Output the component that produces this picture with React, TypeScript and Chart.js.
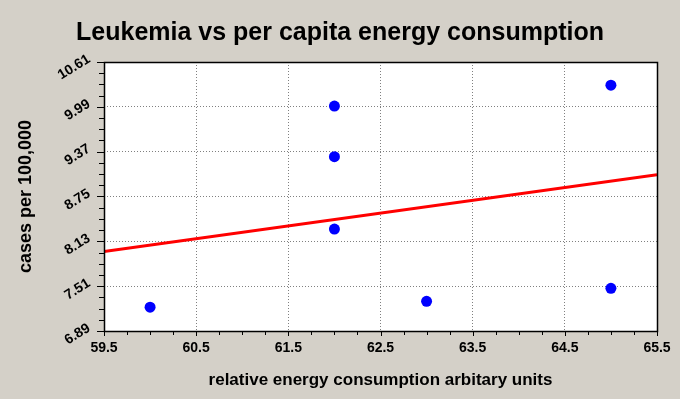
import React, { useEffect, useRef } from 'react';
import { Chart, registerables } from 'chart.js';

Chart.register(...registerables);

const titleText = 'Leukemia vs per capita energy consumption';
const xAxisTitle = 'relative energy consumption arbitary units';
const yAxisTitle = 'cases per 100,000';

const xTickValues = [59.5, 60.5, 61.5, 62.5, 63.5, 64.5, 65.5];
const xTickLabels = ['59.5', '60.5', '61.5', '62.5', '63.5', '64.5', '65.5'];
const yTickValues = [6.89, 7.51, 8.13, 8.75, 9.37, 9.99, 10.61];
const yTickLabels = ['6.89', '7.51', '8.13', '8.75', '9.37', '9.99', '10.61'];

const energyX = [60, 62, 62, 62, 63, 65, 65];
const casesY = [7.22, 10.0, 9.3, 8.3, 7.3, 10.29, 7.48];

const fitX = [59.5, 65.5];
const fitY = [7.99, 9.05];

const minorDivisions = 4;

const FONT = "'Liberation Sans', Arial, sans-serif";
const BG = '#d4d0c8';

const framePlugin = {
  id: 'frame',
  beforeDraw(chart: any) {
    const { ctx, chartArea: a, width, height } = chart;
    ctx.save();
    ctx.fillStyle = BG;
    ctx.fillRect(0, 0, width, height);
    ctx.fillStyle = '#ffffff';
    ctx.fillRect(a.left, a.top, a.right - a.left, a.bottom - a.top);
    ctx.restore();
  },
  afterDraw(chart: any) {
    const { ctx, chartArea: a } = chart;
    const xs = chart.scales.x;
    const ys = chart.scales.y;
    ctx.save();
    ctx.strokeStyle = '#000000';
    ctx.lineWidth = 1;
    ctx.beginPath();
    for (let i = 0; i < xTickValues.length; i++) {
      const px = Math.round(xs.getPixelForValue(xTickValues[i])) + 0.5;
      ctx.moveTo(px, a.bottom);
      ctx.lineTo(px, a.bottom + 5);
      if (i < xTickValues.length - 1) {
        const step = (xTickValues[i + 1] - xTickValues[i]) / minorDivisions;
        for (let k = 1; k < minorDivisions; k++) {
          const mx = Math.round(xs.getPixelForValue(xTickValues[i] + k * step)) + 0.5;
          ctx.moveTo(mx, a.bottom);
          ctx.lineTo(mx, a.bottom + 4);
        }
      }
    }
    for (let i = 0; i < yTickValues.length; i++) {
      const py = Math.round(ys.getPixelForValue(yTickValues[i])) + 0.5;
      ctx.moveTo(a.left, py);
      ctx.lineTo(a.left - 7, py);
      if (i < yTickValues.length - 1) {
        const step = (yTickValues[i + 1] - yTickValues[i]) / minorDivisions;
        for (let k = 1; k < minorDivisions; k++) {
          const my = Math.round(ys.getPixelForValue(yTickValues[i] + k * step)) + 0.5;
          ctx.moveTo(a.left, my);
          ctx.lineTo(a.left - 5, my);
        }
      }
    }
    ctx.stroke();
    ctx.lineWidth = 1.5;
    ctx.strokeRect(Math.round(a.left) + 0.5, Math.round(a.top) + 0.5, Math.round(a.right - a.left), Math.round(a.bottom - a.top));
    ctx.restore();
  },
};

export default function App() {
  const ref = useRef<HTMLCanvasElement | null>(null);

  useEffect(() => {
    document.body.style.margin = '0';
    const canvas = ref.current;
    if (!canvas) return;
    const chart = new Chart(canvas, {
      type: 'scatter',
      data: {
        datasets: [
          {
            label: 'regression',
            data: fitX.map((x, i) => ({ x, y: fitY[i] })),
            showLine: true,
            borderColor: '#ff0000',
            backgroundColor: '#ff0000',
            borderWidth: 3,
            pointRadius: 0,
            order: 2,
          },
          {
            label: 'cases',
            data: energyX.map((x, i) => ({ x, y: casesY[i] })),
            showLine: false,
            pointRadius: 5.5,
            pointBorderWidth: 0,
            pointBackgroundColor: '#0000ff',
            borderColor: '#0000ff',
            order: 1,
          },
        ],
      },
      options: {
        responsive: false,
        animation: false,
        devicePixelRatio: 1,
        layout: { padding: { left: 23, right: 23, top: 0, bottom: 0 } },
        plugins: {
          legend: { display: false },
          tooltip: { enabled: false },
          title: {
            display: true,
            text: titleText,
            color: '#000000',
            font: { family: FONT, size: 25, weight: 'bold', lineHeight: 1.2 },
            padding: { top: 18, bottom: 14 },
          },
        },
        scales: {
          x: {
            type: 'linear',
            min: 59.5,
            max: 65.5,
            afterBuildTicks: (s: any) => {
              s.ticks = xTickValues.map((v) => ({ value: v }));
            },
            afterFit: (s: any) => {
              s.height = 68;
            },
            ticks: {
              autoSkip: false,
              maxRotation: 0,
              color: '#000000',
              padding: 4,
              font: { family: FONT, size: 14, weight: 'bold' },
              callback: (_v: any, i: number) => xTickLabels[i],
            },
            grid: {
              color: (c: any) => (c.index === 0 || c.index === xTickValues.length - 1 ? 'rgba(0,0,0,0)' : '#808080'),
              lineWidth: 1,
              drawTicks: true,
              tickLength: 5,
              tickColor: 'rgba(0,0,0,0)',
            },
            border: { display: false, dash: [1, 2] },
            title: {
              display: true,
              text: xAxisTitle,
              color: '#000000',
              font: { family: FONT, size: 17, weight: 'bold', lineHeight: 1.2 },
              padding: { top: 0, bottom: 8 },
            },
          },
          y: {
            type: 'linear',
            min: 6.89,
            max: 10.61,
            afterBuildTicks: (s: any) => {
              s.ticks = yTickValues.map((v) => ({ value: v }));
            },
            afterFit: (s: any) => {
              s.width = 81;
            },
            ticks: {
              autoSkip: false,
              minRotation: 32,
              maxRotation: 32,
              color: '#000000',
              padding: 7,
              labelOffset: -4,
              font: { family: FONT, size: 14, weight: 'bold' },
              callback: (_v: any, i: number) => yTickLabels[i],
            },
            grid: {
              color: (c: any) => (c.index === 0 || c.index === yTickValues.length - 1 ? 'rgba(0,0,0,0)' : '#808080'),
              lineWidth: 1,
              drawTicks: true,
              tickLength: 8,
              tickColor: 'rgba(0,0,0,0)',
            },
            border: { display: false, dash: [1, 2] },
            title: {
              display: true,
              text: yAxisTitle,
              color: '#000000',
              font: { family: FONT, size: 18, weight: 'bold', lineHeight: 1.2 },
              padding: { top: -8, bottom: 0 },
            },
          },
        },
      },
      plugins: [framePlugin],
    });
    return () => chart.destroy();
  }, []);

  return (
    <div style={{ width: 680, height: 399, background: BG }}>
      <canvas ref={ref} width={680} height={399} style={{ display: 'block' }} />
    </div>
  );
}
